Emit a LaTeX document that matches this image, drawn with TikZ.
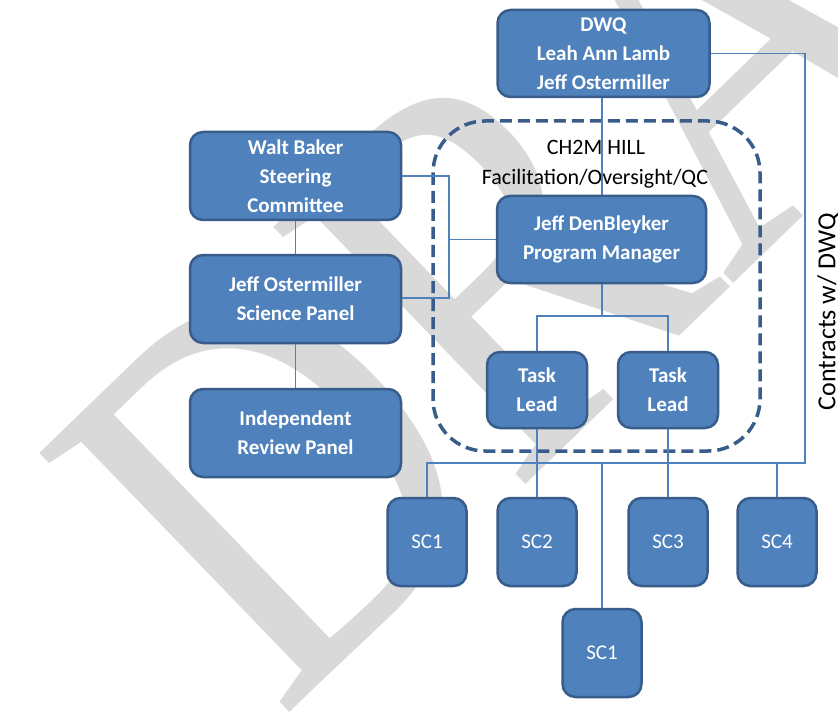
\documentclass[tikz,border=0pt]{standalone}
\usepackage{fontspec}
\setmainfont{Carlito}
\newfontfamily\wmfont{Liberation Serif}
\definecolor{boxfill}{RGB}{79,129,189}
\definecolor{boxline}{RGB}{56,93,138}
\definecolor{wmgray}{RGB}{217,217,217}
\begin{document}
\begin{tikzpicture}[x=1pt,y=-1pt,
  box/.style={draw=boxline, line width=2.5pt, fill=boxfill, rounded corners=13pt,
    text=white, font=\fontsize{21}{29}\selectfont\bfseries, align=center, inner sep=0pt},
  scbox/.style={box, font=\fontsize{21}{29}\selectfont, minimum width=79pt, minimum height=88pt},
  conn/.style={draw=boxfill, line width=1.3pt},
  frame/.style={draw=boxline, line width=3.5pt, dash pattern=on 12pt off 6pt, rounded corners=52pt},
  lbl/.style={font=\fontsize{22}{30}\selectfont, text=black, align=center, inner sep=0pt}]
\useasboundingbox (0,0) rectangle (838,714);
\fill[white] (0,0) rectangle (838,714);
% watermark
\node[text=wmgray, font=\wmfont\fontsize{550}{550}\selectfont, rotate=44, xscale=0.82,
  anchor=base west, inner sep=0pt] (wmk) at (280,722) {DRAFT};
% dashed frame
\draw[frame] (433,121) rectangle (760,451);
% labels
\node[lbl] (ch2m) at (596,147) {CH2M HILL};
\node[lbl] (facil) at (595,179) {Facilitation/Oversight/QC};
\node[lbl, font=\fontsize{26}{30}\selectfont, rotate=90] (contr) at (828,312) {Contracts w/ DWQ};
% nodes
\node[box, minimum width=212pt, minimum height=87pt] (dwq) at (603.5,53.5) {DWQ\\Leah Ann Lamb\\Jeff Ostermiller};
\node[box, minimum width=211pt, minimum height=88pt] (walt) at (295.5,176) {Walt Baker\\Steering\\Committee};
\node[box, minimum width=211pt, minimum height=88pt] (sci) at (295.5,299) {Jeff Ostermiller\\Science Panel};
\node[box, minimum width=211pt, minimum height=88pt] (irp) at (295.5,433) {Independent\\Review Panel};
\node[box, minimum width=209pt, minimum height=87pt] (pm) at (601.5,239.5) {Jeff DenBleyker\\Program Manager};
\node[box, minimum width=100pt, minimum height=76pt] (tl1) at (537,390) {Task\\Lead};
\node[box, minimum width=100pt, minimum height=76pt] (tl2) at (668,390) {Task\\Lead};
\node[scbox] (sc1) at (427,542) {SC1};
\node[scbox] (sc2) at (537,542) {SC2};
\node[scbox] (sc3) at (668,542) {SC3};
\node[scbox] (sc4) at (777,542) {SC4};
\node[scbox] (sc1b) at (602,653) {SC1};
% connector coordinates
\coordinate (cr) at (805,463);
\coordinate (lv) at (449,298);
\coordinate (pmb) at (602,316);
% connectors
\draw[conn] (pm.north -| pmb) -- (dwq.south -| pmb);
\draw[conn] (dwq.east) -| (cr) -- (sc1.north |- cr) -- (sc1.north);
\draw[conn] (sc1b.north) -- (sc1b.north |- cr);
\draw[conn] (sc4.north) -- (sc4.north |- cr);
\draw[conn] (tl1.south) -- (sc2.north);
\draw[conn] (tl2.south) -- (sc3.north);
\draw[conn] (pm.south -| pmb) -- (pmb);
\draw[conn] (tl1.north) |- (pmb) -| (tl2.north);
\draw[conn] (walt.east) -| (lv) -- (sci.east |- lv);
\draw[conn] (pm.west) -- (pm.west -| lv);
\draw[conn] (walt.south) -- (sci.north);
\draw[conn] (sci.south) -- (irp.north);
\end{tikzpicture}
\end{document}
